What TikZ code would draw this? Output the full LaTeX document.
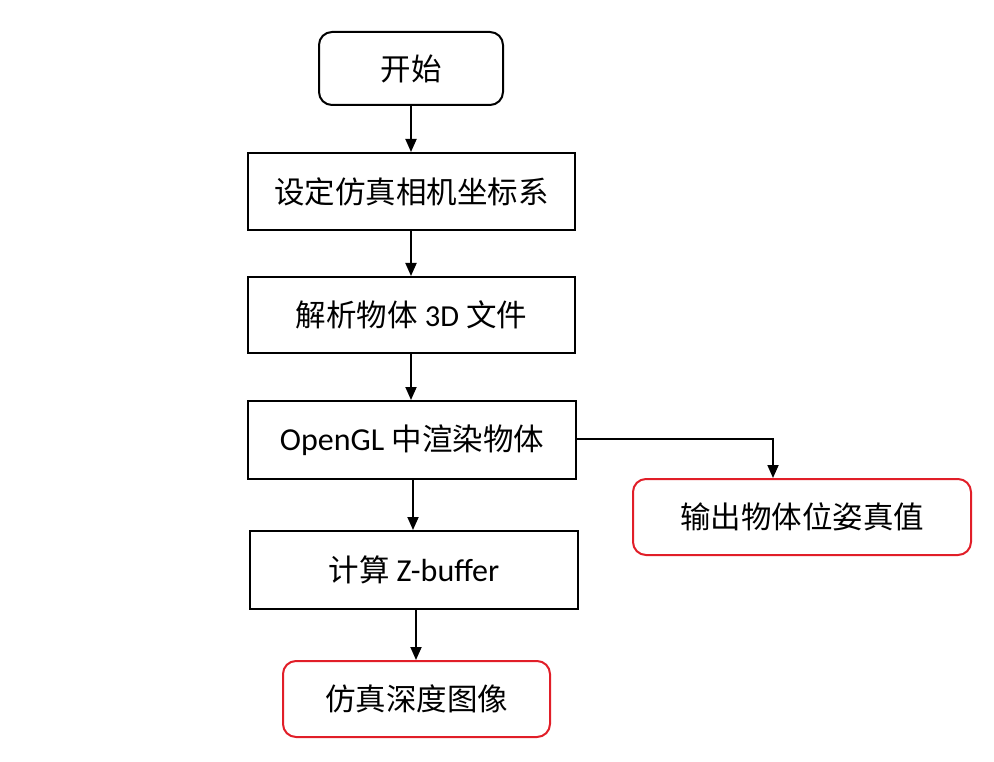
\documentclass[tikz,border=0pt]{standalone}
\usepackage{fontspec}
\setmainfont{Carlito}
\newfontfamily\cjk{Noto Sans CJK SC}
\usetikzlibrary{arrows.meta}
\definecolor{boxred}{RGB}{225,30,40}
\begin{document}
\begin{tikzpicture}[x=1pt,y=-1pt,
  every node/.style={font=\fontsize{30.5}{33}\selectfont, inner sep=0pt},
  rbox/.style={draw=black, line width=2pt, rounded corners=13pt},
  sbox/.style={draw=black, line width=2pt},
  redbox/.style={draw=boxred, line width=2pt, rounded corners=13pt},
  arr/.style={line width=1.8pt, -{Triangle[length=13pt,width=11pt]}}]
\useasboundingbox (0,0) rectangle (994,762);
\node[rbox, minimum width=184pt, minimum height=73pt] (start) at (411,68.5) {\cjk 开始};
\node[sbox, minimum width=327pt, minimum height=77pt] (b2) at (411.5,191.5) {\cjk 设定仿真相机坐标系};
\node[sbox, minimum width=327pt, minimum height=76pt] (b3) at (411.5,315) {{\cjk 解析物体} 3D {\cjk 文件}};
\node[sbox, minimum width=328pt, minimum height=78pt] (b4) at (412,440) {\fontsize{32}{34}\selectfont OpenGL {\cjk\fontsize{30.5}{33}\selectfont 中渲染物体}};
\node[sbox, minimum width=328pt, minimum height=78pt] (b5) at (414,570) {{\cjk 计算} \fontsize{32}{34}\selectfont Z-buffer};
\node[redbox, minimum width=338pt, minimum height=76pt] (r1) at (802,517) {\cjk 输出物体位姿真值};
\node[redbox, minimum width=267pt, minimum height=76pt] (r2) at (416.5,699) {\cjk 仿真深度图像};
\draw[arr] (start.south) -- (b2.north -| start.south);
\draw[arr] (b2.south -| start.south) -- (b3.north -| start.south);
\draw[arr] (b3.south -| start.south) -- (b4.north -| start.south);
\draw[arr] (b4.south -| 413,0) -- (b5.north -| 413,0);
\draw[arr] (b5.south -| 416,0) -- (r2.north -| 416,0);
\coordinate (turn) at (773,439);
\draw[arr] (b4.east |- turn) -- (turn) -- (turn |- r1.north);
\end{tikzpicture}
\end{document}
